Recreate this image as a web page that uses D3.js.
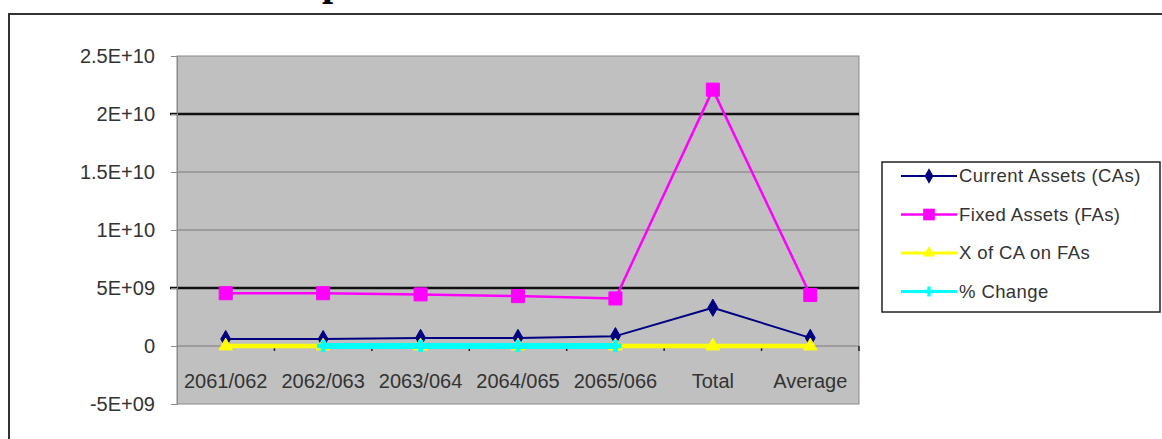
<!DOCTYPE html>
<html>
<head>
    <script src="https://d3js.org/d3.v7.min.js"></script>
    <style>
        body { margin: 0; background: #fff; }
        text { font-family: "Liberation Sans", Arial, sans-serif; fill: #333; }
    </style>
</head>
<body>
    <svg width="1162" height="439"></svg>
    <script>
        // Data
        const categories = ["2061/062", "2062/063", "2063/064", "2064/065", "2065/066", "Total", "Average"];
        const currentAssets = [0.6e9, 0.6e9, 0.7e9, 0.7e9, 0.85e9, 3.3e9, 0.7e9];
        const fixedAssets = [4.55e9, 4.55e9, 4.45e9, 4.3e9, 4.1e9, 22.1e9, 4.4e9];
        const xOfCaOnFas = [0.1, 0.1, 0.2, 0.2, 0.2, 0.8, 0.2];
        const pctChange = [null, 0.01, 0.04, -0.02, 0.02, null, null];
        const seriesNames = ["Current Assets (CAs)", "Fixed Assets (FAs)", "X of CA on FAs", "% Change"];
        const yTicks = [-5e9, 0, 5e9, 1e10, 1.5e10, 2e10, 2.5e10];
        const yTickLabels = ["-5E+09", "0", "5E+09", "1E+10", "1.5E+10", "2E+10", "2.5E+10"];

        const svg = d3.select("svg");

        // outer chart frame (runs off the right and bottom of the page)
        svg.append("rect")
            .attr("x", 9).attr("y", 14)
            .attr("width", 1200).attr("height", 500)
            .attr("fill", "none").attr("stroke", "#333").attr("stroke-width", 2);

        // title sits above the frame, only its descender shows
        svg.append("text")
            .attr("x", 322).attr("y", -5)
            .style("font-family", "'Liberation Serif', serif")
            .style("font-weight", "bold")
            .style("font-size", "40px")
            .style("fill", "#000")
            .text("p");

        const plot = {left: 177, right: 859, top: 56, bottom: 404};

        const x = d3.scaleBand().domain(categories).range([plot.left, plot.right]);
        const y = d3.scaleLinear().domain([-5e9, 2.5e10]).range([plot.bottom, plot.top]);
        const cx = d => x(d) + x.bandwidth() / 2;

        // plot area
        svg.append("rect")
            .attr("x", plot.left).attr("y", plot.top)
            .attr("width", plot.right - plot.left).attr("height", plot.bottom - plot.top)
            .attr("fill", "#c0c0c0").attr("stroke", "#8a8a8a").attr("stroke-width", 1);

        // gridlines - two are drawn heavy black in the original
        const heavy = [5e9, 2e10];
        svg.selectAll(".grid")
            .data(yTicks.filter(t => t > -5e9 && t < 2.5e10))
            .enter().append("line")
            .attr("x1", d => heavy.includes(d) ? plot.left - 7 : plot.left)
            .attr("x2", plot.right)
            .attr("y1", d => y(d)).attr("y2", d => y(d))
            .attr("stroke", d => heavy.includes(d) ? "#111" : "#7a7a7a")
            .attr("stroke-width", d => heavy.includes(d) ? 2.5 : 1);

        // y axis
        const yAxis = svg.append("g")
            .attr("transform", "translate(" + plot.left + ",0)")
            .call(d3.axisLeft(y).tickValues(yTicks).tickSize(6).tickPadding(16)
                .tickFormat((d, i) => yTickLabels[i]));
        yAxis.select(".domain").attr("stroke", "#8a8a8a");
        yAxis.selectAll(".tick line").attr("stroke", "#8a8a8a");
        yAxis.selectAll("text").style("font-size", "20px").style("fill", "#333")
            .style("font-family", "'Liberation Sans', Arial, sans-serif");

        // category axis crosses at zero
        svg.selectAll(".xtick")
            .data(categories.slice(1).concat(["end"]))
            .enter().append("line")
            .attr("x1", (d, i) => plot.left + x.step() * (i + 1))
            .attr("x2", (d, i) => plot.left + x.step() * (i + 1))
            .attr("y1", y(0)).attr("y2", y(0) + 5)
            .attr("stroke", "#222").attr("stroke-width", 1.5);

        svg.selectAll(".xlabel")
            .data(categories)
            .enter().append("text")
            .attr("x", d => cx(d))
            .attr("y", 388)
            .attr("text-anchor", "middle")
            .style("font-size", "20px")
            .text(d => d);

        // series
        const series = [
            {name: seriesNames[0], values: currentAssets, color: "#000080", width: 2, marker: d3.symbolDiamond, size: 85},
            {name: seriesNames[1], values: fixedAssets, color: "#ff00ff", width: 2.5, marker: d3.symbolSquare, size: 170},
            {name: seriesNames[2], values: xOfCaOnFas, color: "#ffff00", width: 4.5, marker: d3.symbolTriangle, size: 80},
            {name: seriesNames[3], values: pctChange, color: "#00ffff", width: 6, marker: d3.symbolCross, size: 70}
        ];

        const line = d3.line()
            .defined(d => d.v !== null)
            .x(d => cx(d.c))
            .y(d => y(d.v));

        series.forEach(s => {
            const pts = categories.map((c, i) => ({c: c, v: s.values[i]}));
            svg.append("path")
                .datum(pts)
                .attr("d", line)
                .attr("fill", "none")
                .attr("stroke", s.color)
                .attr("stroke-width", s.width)
                .attr("stroke-linejoin", "round");
            svg.selectAll(null)
                .data(pts.filter(d => d.v !== null))
                .enter().append("path")
                .attr("d", d3.symbol().type(s.marker).size(s.size))
                .attr("transform", d => "translate(" + cx(d.c) + "," + y(d.v) + ")")
                .attr("fill", s.color)
                .attr("stroke", s.color)
                .attr("stroke-width", 1);
        });

        // legend
        const legendBox = {x: 882, y: 162, w: 278, h: 150};
        svg.append("rect")
            .attr("x", legendBox.x).attr("y", legendBox.y)
            .attr("width", legendBox.w).attr("height", legendBox.h)
            .attr("fill", "#fff").attr("stroke", "#222").attr("stroke-width", 1.5);

        const legend = svg.selectAll(".legend")
            .data(series)
            .enter().append("g")
            .attr("class", "legend")
            .attr("transform", (d, i) => "translate(" + legendBox.x + "," + (legendBox.y + 14 + i * 38.5) + ")");

        legend.append("line")
            .attr("x1", 19).attr("x2", 75)
            .attr("stroke", d => d.color)
            .attr("stroke-width", d => Math.min(d.width, 3));
        legend.append("path")
            .attr("d", d => d3.symbol().type(d.marker).size(d.size * 0.8)())
            .attr("transform", "translate(47,0)")
            .attr("fill", d => d.color);
        legend.append("text")
            .attr("x", 77).attr("dy", "0.35em")
            .style("font-size", "18.5px")
            .style("letter-spacing", "0.4px")
            .text(d => d.name);
    </script>
</body>
</html>
